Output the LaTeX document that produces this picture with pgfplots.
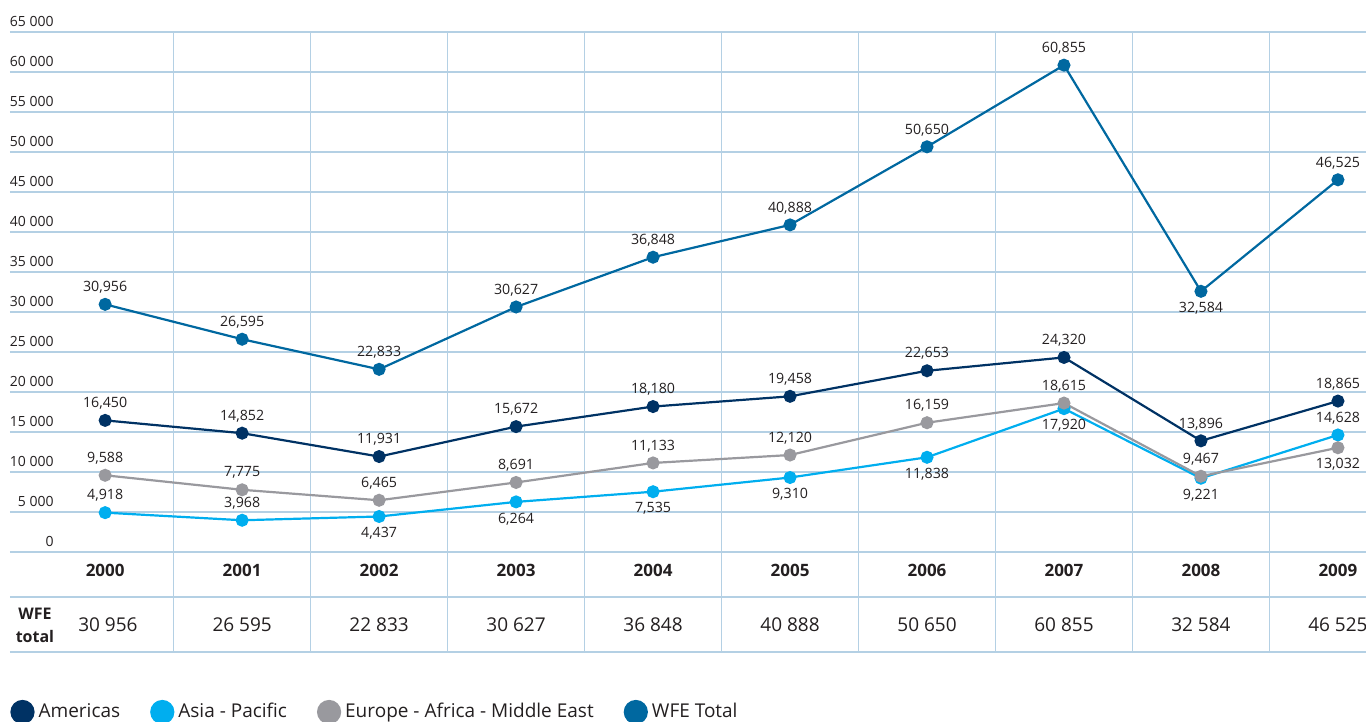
\documentclass[border=0pt]{standalone}
\usepackage{fontspec}
\setmainfont{Open Sans}
\usepackage{pgfplots}
\usepackage{pgfplotstable}
\pgfplotsset{compat=1.18}
\definecolor{cwfe}{RGB}{0,104,160}
\definecolor{camer}{RGB}{0,50,100}
\definecolor{casia}{RGB}{0,174,239}
\definecolor{ceur}{RGB}{153,153,158}
\definecolor{cgrid}{RGB}{180,208,228}
\definecolor{ctext}{RGB}{35,31,32}

\pgfplotstableread{
x y pos
0 30956 1
1 26595 1
2 22833 1
3 30627 1
4 36848 1
5 40888 1
6 50650 1
7 60855 1
8 32584 -1
9 46525 1
}\wfe
\pgfplotstableread{
x y pos
0 16450 1
1 14852 1
2 11931 1
3 15672 1
4 18180 1
5 19458 1
6 22653 1
7 24320 1
8 13896 1
9 18865 1
}\amer
\pgfplotstableread{
x y pos
0 9588 1
1 7775 1
2 6465 1
3 8691 1
4 11133 1
5 12120 1
6 16159 1
7 18615 1
8 9467 1
9 13032 -1
}\eur
\pgfplotstableread{
x y pos
0 4918 1
1 3968 1
2 4437 -1
3 6264 -1
4 7535 -1
5 9310 -1
6 11838 -1
7 17920 -1
8 9221 -1
9 14628 1
}\asia

\begin{document}
\begin{tikzpicture}
\begin{axis}[
  name=ax,
  scale only axis, width=678pt, height=310pt,
  xmin=-0.6947, xmax=9.205, ymin=-12500, ymax=65000,
  axis line style={draw=none}, major tick length=0pt,
  scaled y ticks=false,
  xtick={0.5,1.5,...,8.5}, xticklabels={},
  ytick={0,5000,...,65000},
  yticklabels={0,5 000,10 000,15 000,20 000,25 000,30 000,35 000,40 000,45 000,50 000,55 000,60 000,65 000},
  extra y ticks={-5625,-12500}, extra y tick labels={},
  grid=major, grid style={line width=0.75pt, color=cgrid},
  yticklabel style={anchor=south east, inner sep=0pt, xshift=22pt, yshift=2.5pt,
    font=\fontsize{7}{8}\selectfont, text=ctext},
  clip=false,
  /pgf/number format/assume math mode=true,
  /pgf/number format/.cd, fixed, precision=0, 1000 sep={,}, /pgfplots/.cd,
  point meta=y,
  nodes near coords,
  visualization depends on={\thisrow{pos}\as\lpos},
  every node near coord/.style={anchor=center, inner sep=0pt, yshift=\lpos*8.5pt,
    font=\fontsize{7.1}{8}\selectfont, text=ctext},
  every axis plot/.append style={line width=1.1pt, mark=*, mark size=2.7pt, mark options={solid}},
  legend style={at={(0,-0.0968)}, anchor=west, draw=none, fill=none, inner sep=0pt,
    font=\fontsize{9.5}{11}\selectfont, text=ctext,
    /tikz/every even column/.append style={column sep=13pt}},
  legend columns=-1, legend cell align=left,
]
\addplot[cwfe, forget plot] table[x=x,y=y] {\wfe};
\addplot[casia, forget plot] table[x=x,y=y] {\asia};
\addplot[ceur, forget plot] table[x=x,y=y] {\eur};
\addplot[camer, forget plot] table[x=x,y=y] {\amer};

\addlegendimage{camer, legend image code/.code={\fill (5.5pt,0pt) circle (5.5pt);}}
\addlegendentry{Americas}
\addlegendimage{casia, legend image code/.code={\fill (5.5pt,0pt) circle (5.5pt);}}
\addlegendentry{Asia - Pacific}
\addlegendimage{ceur, legend image code/.code={\fill (5.5pt,0pt) circle (5.5pt);}}
\addlegendentry{Europe - Africa - Middle East}
\addlegendimage{cwfe, legend image code/.code={\fill (5.5pt,0pt) circle (5.5pt);}}
\addlegendentry{WFE Total}

\begin{scope}[every node/.style={font=\bfseries\fontsize{8.5}{10}\selectfont, text=ctext}]
\node at (axis cs:0,-2250) {2000};
\node at (axis cs:1,-2250) {2001};
\node at (axis cs:2,-2250) {2002};
\node at (axis cs:3,-2250) {2003};
\node at (axis cs:4,-2250) {2004};
\node at (axis cs:5,-2250) {2005};
\node at (axis cs:6,-2250) {2006};
\node at (axis cs:7,-2250) {2007};
\node at (axis cs:8,-2250) {2008};
\node at (axis cs:9,-2250) {2009};
\end{scope}
\node[font=\bfseries\fontsize{8}{11.5}\selectfont, text=ctext, align=center] at (axis cs:-0.5125,-9125) {WFE\\total};
\begin{scope}[every node/.style={font=\fontsize{9.5}{11}\selectfont, text=ctext}]
\node at (axis cs:0.02,-9125) {30 956};
\node at (axis cs:1,-9125) {26 595};
\node at (axis cs:2,-9125) {22 833};
\node at (axis cs:3,-9125) {30 627};
\node at (axis cs:4,-9125) {36 848};
\node at (axis cs:5,-9125) {40 888};
\node at (axis cs:6,-9125) {50 650};
\node at (axis cs:7,-9125) {60 855};
\node at (axis cs:8,-9125) {32 584};
\node at (axis cs:9,-9125) {46 525};
\end{scope}
\end{axis}
\pgfresetboundingbox
\path[use as bounding box] ([shift={(-5pt,-35pt)}]ax.south west) rectangle ([shift={(0pt,16pt)}]ax.north east);
\end{tikzpicture}
\end{document}
